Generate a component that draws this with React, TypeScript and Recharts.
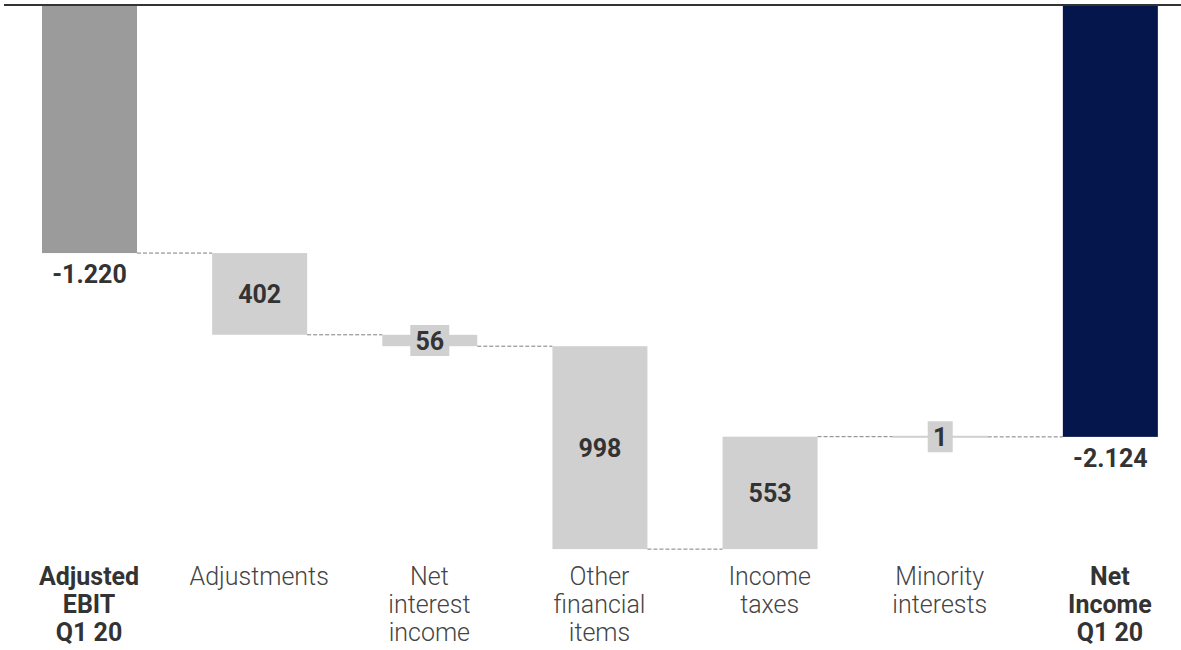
import React from 'react';
import { BarChart, Bar, XAxis, YAxis, ReferenceLine, LabelList } from 'recharts';

// ---- data ----
const CATEGORIES = [
  'Adjusted EBIT Q1 20',
  'Adjustments',
  'Net interest income',
  'Other financial items',
  'Income taxes',
  'Minority interests',
  'Net Income Q1 20',
];
const CATEGORY_LINES = [
  ['Adjusted', 'EBIT', 'Q1 20'],
  ['Adjustments'],
  ['Net', 'interest', 'income'],
  ['Other', 'financial', 'items'],
  ['Income', 'taxes'],
  ['Minority', 'interests'],
  ['Net', 'Income', 'Q1 20'],
];
const VALUES = [-1220, -402, -56, -998, 553, -1, -2124];
const KINDS = ['start', 'delta', 'delta', 'delta', 'delta', 'delta', 'end'];
const Y_DOMAIN = [-2700, 0];

// ---- styles ----
const COLOR_BY_KIND: Record<string, string> = {
  start: '#9b9b9b',
  delta: '#d0d0d0',
  end: '#05164d',
};
const FONT = 'Roboto, "Noto Sans", sans-serif';
const CHART_W = 1200;
const CHART_H = 650;
const MARGIN = { top: 5, right: 5, left: 4, bottom: 0 };
const BAND = (CHART_W - MARGIN.left - MARGIN.right) / CATEGORIES.length;

const fmtTotal = (n: number) =>
  (n < 0 ? '-' : '') + Math.abs(n).toString().replace(/\B(?=(\d{3})+(?!\d))/g, '.');

let running = 0;
const data = VALUES.map((v, i) => {
  const kind = KINDS[i];
  let start: number;
  let end: number;
  if (kind === 'delta') {
    start = running;
    end = running + v;
  } else {
    start = 0;
    end = v;
  }
  running = end;
  return {
    name: CATEGORIES[i],
    lines: CATEGORY_LINES[i],
    kind,
    start,
    end,
    range: [Math.min(start, end), Math.max(start, end)],
    label: kind === 'delta' ? String(Math.abs(v)) : fmtTotal(v),
  };
});

const BarShape = (props: any) => {
  const { x, payload, index } = props;
  let { y, width, height } = props;
  if (height < 0) {
    y = y + height;
    height = -height;
  }
  let ry = y;
  let rh = height;
  if (rh < 2) {
    ry = y + rh / 2 - 1;
    rh = 2;
  }
  // keep the zero line fully visible above bars that hang from it
  if (payload.range[1] === 0) {
    ry += 1;
    rh -= 1;
  }
  const level = payload.end < payload.start ? y + height : y;
  const idx = typeof index === 'number' ? index : data.findIndex((d) => d.name === payload.name);
  return (
    <g>
      <rect x={x} y={ry} width={width} height={rh} fill={COLOR_BY_KIND[payload.kind]} />
      {idx < data.length - 1 && (
        <line
          x1={x + width}
          x2={x + BAND}
          y1={level}
          y2={level}
          stroke="#7f7f7f"
          strokeWidth={1}
          strokeDasharray="4 2"
        />
      )}
    </g>
  );
};

const renderLabel = (props: any) => {
  const vb = props.viewBox && props.viewBox.width !== undefined ? props.viewBox : props;
  let { x, y, width, height } = vb;
  if (height < 0) {
    y = y + height;
    height = -height;
  }
  const value = String(props.value);
  let idx = typeof props.index === 'number' ? props.index : -1;
  if (idx < 0) idx = data.findIndex((d) => d.label === value);
  const d = data[idx];
  const cx = x + width / 2;
  const textStyle = { fontFamily: FONT, fontSize: 25, fontWeight: 700, fill: '#333333' } as any;
  if (!d || d.kind !== 'delta') {
    return (
      <text x={cx} y={y + height + 30} textAnchor="middle" style={textStyle}>
        {value}
      </text>
    );
  }
  const cy = y + height / 2;
  const tw = value.length * 14;
  return (
    <g>
      <rect x={cx - tw / 2 - 5.5} y={cy - 15.5} width={tw + 11} height={31} fill="#d0d0d0" />
      <text x={cx} y={cy + 9} textAnchor="middle" style={textStyle}>
        {value}
      </text>
    </g>
  );
};

const CategoryTick = (props: any) => {
  const { x, y, payload } = props;
  const idx = CATEGORIES.indexOf(payload.value);
  const lines = CATEGORY_LINES[idx] || [payload.value];
  const bold = KINDS[idx] !== 'delta';
  return (
    <text
      x={x}
      y={y}
      textAnchor="middle"
      style={{
        fontFamily: FONT,
        fontSize: 25,
        fontWeight: bold ? 700 : 300,
        fill: bold ? '#333333' : '#444444',
      }}
    >
      {lines.map((l: string, i: number) => (
        <tspan key={i} x={x} y={y + 31 + i * 28}>
          {l}
        </tspan>
      ))}
    </text>
  );
};

export default function App() {
  return (
    <div
      style={{
        position: 'absolute',
        left: 0,
        top: 0,
        width: 1181,
        height: 650,
        overflow: 'hidden',
        background: '#ffffff',
      }}
    >
      <BarChart width={CHART_W} height={CHART_H} data={data} margin={MARGIN}>
        <XAxis
          dataKey="name"
          interval={0}
          axisLine={false}
          tickLine={false}
          tickSize={0}
          tickMargin={0}
          height={96}
          tick={<CategoryTick />}
        />
        <YAxis hide type="number" domain={Y_DOMAIN} />
        <Bar dataKey="range" barSize={95} isAnimationActive={false} shape={<BarShape />}>
          <LabelList dataKey="label" content={renderLabel} />
        </Bar>
        <ReferenceLine y={0} stroke="#333333" strokeWidth={2} />
      </BarChart>
    </div>
  );
}
